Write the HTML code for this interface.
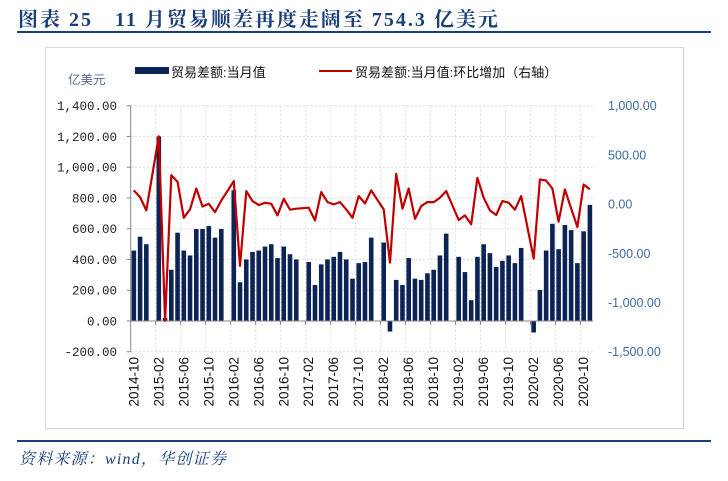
<!DOCTYPE html>
<html><head><meta charset="utf-8"><style>
body{margin:0;background:#fff;width:728px;height:481px;overflow:hidden;position:relative;font-family:"Liberation Sans","Noto Sans CJK SC",sans-serif}
#title{position:absolute;left:18px;top:3px;font:bold 20px "Liberation Serif","Noto Serif CJK SC",serif;color:#1a3f7a;letter-spacing:2px;white-space:pre}
#rule1{position:absolute;left:17px;top:31px;width:694px;height:2px;background:#1a3f7a}
#box{position:absolute;left:45px;top:47px;width:637px;height:380px;border:1px solid #d8d8d8;border-right-color:#ccc}
#rule2{position:absolute;left:17px;top:440px;width:694px;height:2px;background:#1a3f7a}
#src{position:absolute;left:19px;top:446px;font:italic 16px "Liberation Serif","Noto Serif CJK SC",serif;color:#1a3f7a;letter-spacing:1.2px}
svg{position:absolute;left:0;top:0}
</style></head><body>
<div id="title">图表 25　11 月贸易顺差再度走阔至 754.3 亿美元</div>
<div id="rule1"></div>
<div id="box"></div>
<div id="rule2"></div>
<div id="src">资料来源：wind，华创证券</div>
<svg id="chart" width="728" height="481"></svg>
<script>
const months = [];
(function(){let y=2014,m=10;for(let i=0;i<74;i++){months.push(y+'-'+String(m).padStart(2,'0'));m++;if(m>12){m=1;y++;}}})();
const barValues = [458,548,499,null,1200,20,333,574,458,426,598,598,617,542,598,
null,850,252,400,449,458,484,499,409,484,434,400,
null,383,234,368,400,417,449,400,275,376,383,542,
null,510,-69,267,234,409,275,267,310,333,426,568,
null,417,318,135,417,499,441,351,391,426,376,475,
null,-75,202,458,632,467,624,591,376,583,755];
const lineValues = [139,71,-64,null,689,-1186,294,226,-139,-54,159,-24,3,-81,37,
null,233,-628,132,30,-10,14,3,-115,54,-57,-47,
null,-37,-166,122,20,-3,20,-54,-139,81,7,139,
null,-54,-595,307,-47,159,-149,-20,20,20,64,132,
null,-162,-115,-206,267,64,-64,-111,30,14,-57,81,
null,-554,250,240,159,-179,149,-44,-233,199,149];
const leftTicks = [1400,1200,1000,800,600,400,200,0,-200];
const leftTickLabels = ['1,400.00','1,200.00','1,000.00','800.00','600.00','400.00','200.00','0.00','-200.00'];
const rightTicks = [1000,500,0,-500,-1000,-1500];
const rightTickLabels = ['1,000.00','500.00','0.00','-500.00','-1,000.00','-1,500.00'];

const NS='http://www.w3.org/2000/svg';
const svg=document.getElementById('chart');
const X0=130.7,X1=593,YT=105.7,YB=351.7;
const band=(X1-X0)/months.length;
const xc=i=>X0+(i+0.5)*band;
const yL=v=>YT+(1400-v)/1600*(YB-YT);
const yR=v=>YT+(1000-v)/2500*(YB-YT);
function mk(t,a){const e=document.createElementNS(NS,t);for(const k in a)e.setAttribute(k,a[k]);svg.appendChild(e);return e;}
leftTicks.forEach((v,i)=>{
  if(v!==0){const g=mk('line',{x1:X0,x2:X1,y1:yL(v),y2:yL(v),stroke:'#d9d9d9','stroke-dasharray':'2,2'});
  
  }
  const tk=mk('line',{x1:X0-4,x2:X0,y1:yL(v),y2:yL(v),stroke:'#888'});
  
  
  const t=mk('text',{x:117,y:yL(v)+4.5,'text-anchor':'end','font-size':'12.5','font-family':'"Liberation Mono","Noto Sans CJK SC",monospace',fill:'#222'});
  t.textContent=leftTickLabels[i];
  
  
});
rightTicks.forEach((v,i)=>{
  const t=mk('text',{x:608,y:yR(v)+4.5,'font-size':'12.5',fill:'#3d6aa0'});
  t.textContent=rightTickLabels[i];
  
  
});
for(let i=0;i<months.length;i+=4){
  const xg=X0+(i+4)*band;
  if(i+4<months.length){const g=mk('line',{x1:xg,x2:xg,y1:YT,y2:YB,stroke:'#e0e0e0','stroke-dasharray':'2,2'});
  
  
  const tk=mk('line',{x1:xg,x2:xg,y1:yL(0),y2:yL(0)+4,stroke:'#888'});
  
  }
  const x=xc(i)+4.5,y=357;
  const t=mk('text',{x:x,y:y,'font-size':'13.5',fill:'#111','text-anchor':'end',transform:`rotate(-90 ${x} ${y})`});
  t.textContent=months[i];
  
  
}
barValues.forEach((v,i)=>{
  if(v===null)return;
  const y0=yL(0),y1=yL(v);
  const r=mk('rect',{x:xc(i)-2.3,width:4.6,y:Math.min(y0,y1),height:Math.abs(y0-y1),fill:'#0c2356'});
  
  
});
const ax=mk('line',{x1:X0,x2:X0,y1:YT,y2:YB,stroke:'#888'});


const zx=mk('line',{x1:X0,x2:X1,y1:yL(0),y2:yL(0),stroke:'#888'});


let d='';
lineValues.forEach((v,i)=>{if(v===null)return;d+=(d?'L':'M')+xc(i).toFixed(1)+','+yR(v).toFixed(1);});
const p=mk('path',{d:d,fill:'none',stroke:'#c00000','stroke-width':2.2,'stroke-linejoin':'round'});


const u=mk('text',{x:68,y:84,'font-size':'12.5',fill:'#5a6a8a'});
u.textContent='亿美元';


const l1=mk('rect',{x:135,y:67,width:34,height:7,fill:'#0c2356'});


const t1=mk('text',{x:171,y:77,'font-size':'13',fill:'#111'});
t1.textContent='贸易差额:当月值';


const l2=mk('line',{x1:319,x2:352,y1:71,y2:71,stroke:'#c00000','stroke-width':2});


const t2=mk('text',{x:355,y:77,'font-size':'13',fill:'#111'});
t2.textContent='贸易差额:当月值:环比增加（右轴）';


</script>
</body></html>
